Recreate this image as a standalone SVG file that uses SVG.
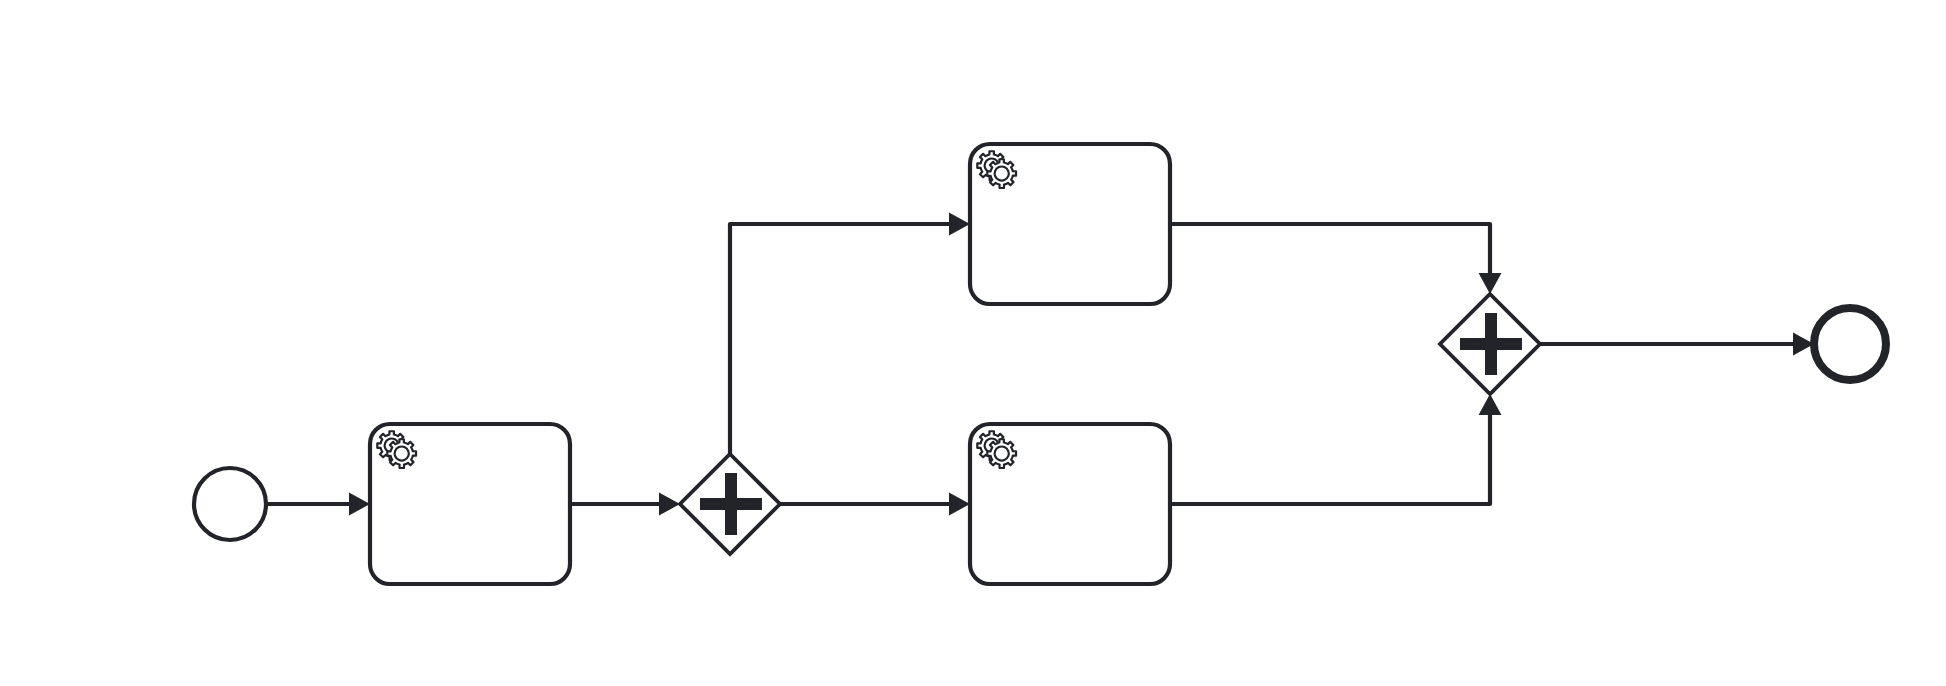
<svg xmlns="http://www.w3.org/2000/svg" xmlns:xlink="http://www.w3.org/1999/xlink" width="1946" height="686" viewBox="0 0 1946 686">
<style>
.flow{fill:none;stroke:#22242a;stroke-width:4.2;stroke-linejoin:round;marker-end:url(#arrow)}
.task{fill:#fff;stroke:#22242a;stroke-width:4.2}
.gw{fill:#fff;stroke:#22242a;stroke-width:3.8;stroke-linejoin:miter}
.cross{fill:#22242a}
.gear{fill:#fff;stroke:#22242a;stroke-width:1.1;stroke-linejoin:round}
.ev{fill:#fff;stroke:#22242a}
</style>
<defs>
<marker id="arrow" markerUnits="userSpaceOnUse" viewBox="0 0 24 24" markerWidth="24" markerHeight="24" refX="13" refY="12" orient="auto"><polygon points="0,0.5 21,12 0,23.5" fill="#22242a"/></marker>
<path id="gearShape" d="m 0,0 v -1.71335 c 0.352326,-0.0705 0.703932,-0.17838 1.047628,-0.32133 0.344416,-0.14465 0.665822,-0.32133 0.966377,-0.52145 l 1.19431,1.18005 1.567487,-1.57688 -1.195028,-1.18014 c 0.403376,-0.61394 0.683079,-1.29908 0.825447,-2.01824 l 1.622133,-0.01 v -2.2196 l -1.636514,0.01 c -0.07333,-0.35153 -0.178319,-0.70024 -0.323564,-1.04372 -0.145244,-0.34406 -0.321407,-0.6644 -0.522735,-0.96217 l 1.131035,-1.13631 -1.583305,-1.56293 -1.129598,1.13589 c -0.614052,-0.40108 -1.302883,-0.68093 -2.022633,-0.82247 l 0.0093,-1.61852 h -2.241173 l 0.0042,1.63124 c -0.353763,0.0736 -0.705369,0.17977 -1.049785,0.32371 -0.344415,0.14437 -0.665102,0.32092 -0.9635006,0.52046 l -1.1698628,-1.15823 -1.5667691,1.5792 1.1684265,1.15669 c -0.4026573,0.61283 -0.68308,1.29797 -0.8247287,2.01713 l -1.6588041,0.003 v 2.22174 l 1.6724648,-0.006 c 0.073327,0.35077 0.1797598,0.70243 0.3242851,1.04472 0.1452428,0.34448 0.3214064,0.6644 0.5227339,0.96066 l -1.1993431,1.19723 1.5840256,1.56011 1.1964668,-1.19348 c 0.6140517,0.40346 1.3028827,0.68232 2.0233517,0.82331 l 7.19e-4,1.69892 h 2.226848 z m 0.221462,-3.9957 c -1.788948,0.7502 -3.8576,-0.0928 -4.6097055,-1.87438 -0.7521065,-1.78321 0.090598,-3.84627 1.8802645,-4.59604 1.78823,-0.74936 3.856881,0.0929 4.608987,1.87437 0.752106,1.78165 -0.0906,3.84612 -1.879546,4.59605 z"/>
<path id="gearFill" d="m 0,0 c -1.788948,0.7502 -3.8576,-0.0928 -4.6097055,-1.87438 -0.7521065,-1.78321 0.090598,-3.84627 1.8802645,-4.59604 1.78823,-0.74936 3.856881,0.0929 4.608987,1.87437 0.752106,1.78165 -0.0906,3.84612 -1.879546,4.59605 z"/>
<g id="gears" transform="scale(2)">
<use xlink:href="#gearShape" href="#gearShape" x="12" y="18" class="gear"/>
<use xlink:href="#gearFill" href="#gearFill" x="17.2" y="18" fill="#fff"/>
<use xlink:href="#gearShape" href="#gearShape" x="17" y="22" class="gear"/>
</g>
</defs>
<rect width="1946" height="686" fill="#fff"/>
<g id="start"><circle class="ev" cx="230" cy="504" r="36" stroke-width="4.2"/></g>
<g id="task1"><rect class="task" x="370" y="424" width="200" height="160" rx="20" ry="20"/><use xlink:href="#gears" href="#gears" transform="translate(370,424)"/></g>
<g id="split"><polygon class="gw" points="730,454 780,504 730,554 680,504"/><path class="cross" d="M725 473h12v25h25v12h-25v25h-12v-25h-25v-12h25z"/></g>
<g id="task2"><rect class="task" x="970" y="144" width="200" height="160" rx="20" ry="20"/><use xlink:href="#gears" href="#gears" transform="translate(970,144)"/></g>
<g id="task3"><rect class="task" x="970" y="424" width="200" height="160" rx="20" ry="20"/><use xlink:href="#gears" href="#gears" transform="translate(970,424)"/></g>
<g id="join"><polygon class="gw" points="1490,294 1540,344 1490,394 1440,344"/><path class="cross" d="M1485 313h12v25h25v12h-25v25h-12v-25h-25v-12h25z"/></g>
<g id="end"><circle class="ev" cx="1850" cy="344" r="36" stroke-width="8"/></g>
<g id="connectors">
<path class="flow" d="M266 504H362"/>
<path class="flow" d="M570 504H672"/>
<path class="flow" d="M730 454V224H962"/>
<path class="flow" d="M780 504H962"/>
<path class="flow" d="M1170 224H1490V286"/>
<path class="flow" d="M1170 504H1490V402"/>
<path class="flow" d="M1540 344H1806"/>
</g>
</svg>
